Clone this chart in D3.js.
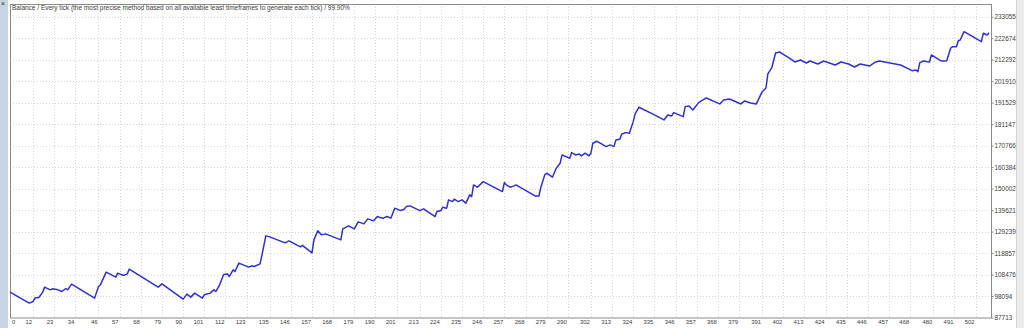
<!DOCTYPE html>
<html>
<head>
    <meta charset="utf-8">
    <script src="https://d3js.org/d3.v7.min.js"></script>
    <style>
        body { margin: 0; background: #fff; }
        text { font-family: Tahoma, "Liberation Sans", Arial, sans-serif; fill: #3c3c3c; }
    </style>
</head>
<body>
<div id="chart"></div>
<script>
    // balance after each trade (vertices)
    var trades = [0, 10, 12, 13, 15, 17, 18, 21, 22, 25, 27, 29, 30, 32, 44, 46, 47, 50, 55, 56, 59, 61, 62, 77, 79,
        90, 92, 94, 96, 100, 101, 104, 106, 107, 109, 111, 113, 114, 116, 117, 119, 124, 126, 127, 130, 131, 133, 135,
        143, 145, 151, 152, 157, 158, 160, 162, 164, 172, 173, 176, 179, 181, 184, 186, 189, 191, 192, 194, 196, 198,
        200, 203, 205, 206, 208, 213, 215, 221, 222, 224, 225, 227, 228, 230, 231, 233, 235, 237, 239, 240, 241, 243,
        246, 256, 257, 258, 260, 262, 263, 273, 275, 276, 278, 279, 282, 284, 286, 287, 291, 292, 294, 296, 297, 299,
        301, 302, 303, 305, 310, 312, 314, 315, 317, 318, 320, 322, 324, 325, 327, 334, 340, 342, 344, 345, 350, 351,
        353, 355, 358, 362, 369, 371, 374, 380, 382, 385, 388, 391, 393, 394, 396, 398, 400, 405, 408, 411, 414, 416,
        420, 423, 426, 429, 432, 436, 439, 442, 447, 450, 452, 463, 469, 471, 472, 473, 475, 477, 478, 479, 484, 486,
        487, 489, 490, 492, 493, 494, 496, 505, 506, 508, 509];

    var balance = [100000, 94667, 95439, 97081, 97371, 99979, 102393, 101089, 101572, 101089, 100268, 101717, 101089,
        103842, 97081, 102683, 103504, 109637, 107222, 109154, 107995, 108816, 111085, 102393, 103987,
        96598, 99013, 97564, 99496, 97081, 98675, 99496, 101089, 100268, 103504, 108333, 108816, 107512, 110747, 109926,
        113983, 112051, 112679, 112341, 113645, 117991, 127166, 126683,
        123786, 124751, 121854, 122578, 118957, 125234, 129580, 127648, 128132, 125234, 130546, 131995, 130546, 133927,
        132961, 135375, 134409, 136486, 136196, 135713, 136486, 135713,
        140542, 139383, 140059, 141315, 141653, 139383, 140204, 136486, 138900, 139383, 141025, 140542, 144550, 143729,
        144888, 143729, 144550, 142957, 146965, 146144, 151794, 150683,
        153387, 148558, 152905, 151794, 150683, 151311, 151794, 146482, 146482, 150683, 156622, 157444, 155512, 159858,
        162273, 166281, 164687, 167392, 166281, 166764, 165798, 167102,
        165798, 167102, 171931, 172897, 170289, 171110, 170289, 173524, 173862, 176277, 177050, 176760, 182361, 186080,
        189315, 186080, 183182, 185597, 185114, 186708, 184776, 189605,
        189943, 188011, 191537, 193806, 190909, 192840, 193323, 190909, 192357, 191391, 190909, 196704, 198635, 205396,
        208293, 215537, 216020, 213120, 211190, 212156, 210708, 211673,
        210225, 211673, 210708, 209742, 211190, 210225, 208776, 210225, 209258, 211190, 211673, 209742, 206989, 207327,
        206506, 210853, 211673, 211335, 211190, 214571, 211673, 211673,
        211818, 217806, 218579, 218579, 221476, 221814, 225822, 220993, 225050, 224229, 225340];

    var xTicks = [0, 12, 23, 34, 46, 57, 68, 79, 90, 101, 112, 123, 135, 146, 157, 168, 179, 190, 201, 213, 224, 235,
        246, 257, 268, 279, 290, 302, 313, 324, 335, 346, 357, 368, 379, 391, 402, 413, 424, 435, 446, 457, 468, 480,
        491, 502];

    var yTicks = [87713, 98094, 108476, 118857, 129239, 139621, 150002, 160384, 170766, 181147, 191529, 201910,
        212292, 222674, 233055];

    var title = "Balance / Every tick (the most precise method based on all available least timeframes to generate each tick) / 99.90%";

    var W = 1024, H = 328;
    var frame = { left: 10, right: 991, top: 4, bottom: 317.5 };

    var svg = d3.select("#chart")
        .append("svg")
        .attr("width", W)
        .attr("height", H);

    svg.append("rect").attr("width", W).attr("height", H).attr("fill", "#fff");

    // window decorations (left tool strip, right edge)
    svg.append("rect").attr("x", 0).attr("y", 0).attr("width", 8).attr("height", H).attr("fill", "#c7d4e2");
    svg.append("text").attr("x", 1).attr("y", 6).style("font-size", "7px").style("fill", "#333").text("×");
    svg.append("rect").attr("x", 1016).attr("y", 0).attr("width", 8).attr("height", H).attr("fill", "#ececec");
    svg.append("line").attr("x1", 1016.5).attr("x2", 1016.5).attr("y1", 0).attr("y2", H).attr("stroke", "#d6d6d6");

    var x = d3.scaleLinear()
        .domain([0, 510])
        .range([frame.left, frame.right]);

    var y = d3.scaleLinear()
        .domain([87713, 239200])
        .range([frame.bottom, frame.top]);

    // dotted grid
    var grid = svg.append("g")
        .attr("stroke", "#d6d6d6")
        .attr("stroke-dasharray", "1,2");

    grid.selectAll("line.v")
        .data(xTicks.slice(1))
        .enter().append("line")
        .attr("x1", function(d) { return Math.round(x(d)) + 0.5; })
        .attr("x2", function(d) { return Math.round(x(d)) + 0.5; })
        .attr("y1", frame.top)
        .attr("y2", frame.bottom);

    grid.selectAll("line.h")
        .data(yTicks.slice(1))
        .enter().append("line")
        .attr("y1", function(d) { return Math.round(y(d)) + 0.5; })
        .attr("y2", function(d) { return Math.round(y(d)) + 0.5; })
        .attr("x1", frame.left)
        .attr("x2", frame.right);

    // frame
    svg.append("rect")
        .attr("x", frame.left + 0.5)
        .attr("y", frame.top + 0.5)
        .attr("width", frame.right - frame.left)
        .attr("height", frame.bottom - frame.top)
        .attr("fill", "none")
        .attr("stroke", "#8a8a8a");

    // right price axis
    var yAxis = svg.append("g")
        .attr("transform", "translate(" + (frame.right + 0.5) + ",0)")
        .call(d3.axisRight(y).tickValues(yTicks).tickSize(2).tickPadding(1).tickFormat(d3.format("d")));
    yAxis.select(".domain").remove();
    yAxis.selectAll("line").attr("stroke", "#8a8a8a");
    yAxis.selectAll("text").style("font-size", "6.4px").style("fill", "#3c3c3c");

    // bottom trade axis
    var xAxis = svg.append("g")
        .attr("transform", "translate(0," + (frame.bottom + 0.5) + ")")
        .call(d3.axisBottom(x).tickValues(xTicks).tickSize(0).tickPadding(2));
    xAxis.select(".domain").remove();
    xAxis.selectAll("text")
        .style("font-size", "5.9px")
        .style("fill", "#3c3c3c")
        .attr("text-anchor", function(d) { return d === 0 ? "start" : "end"; })
        .attr("dx", function(d) { return d === 0 ? 1.5 : -1.5; });

    // title
    svg.append("text")
        .attr("x", 12)
        .attr("y", 10)
        .style("font-size", "6.5px")
        .text(title);

    // balance line
    var line = d3.line()
        .x(function(d) { return x(d); })
        .y(function(d, i) { return y(balance[i]); });

    svg.append("path")
        .datum(trades)
        .attr("fill", "none")
        .attr("stroke", "#3030cc")
        .attr("stroke-width", 1.5)
        .attr("stroke-linejoin", "round")
        .attr("d", line);
</script>
</body>
</html>
